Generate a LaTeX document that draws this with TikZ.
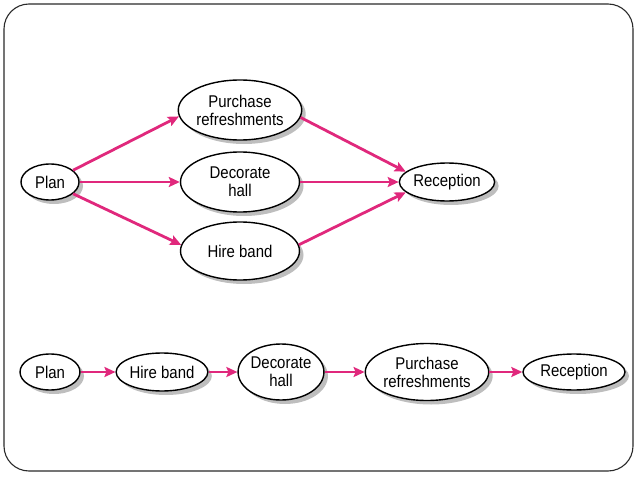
\documentclass[tikz,border=0pt]{standalone}
\usepackage{fontspec}
\setsansfont[FakeStretch=0.88]{Liberation Sans}
\usetikzlibrary{arrows.meta, shapes.geometric, shadows}
\definecolor{cpink}{HTML}{E0287C}
\definecolor{cframe}{HTML}{2A2A2A}
\definecolor{cshadow}{HTML}{BEBEBE}
\tikzset{
  every picture/.style={font=\sffamily\fontsize{17}{18}\selectfont},
  event/.style={ellipse, draw=black, line width=1.4pt, fill=white, align=center, inner sep=0pt,
    drop shadow={shadow xshift=4pt, shadow yshift=-4pt, fill=cshadow, opacity=1}},
  flow/.style={-{Stealth[length=11pt, width=10pt, inset=2pt]}, draw=cpink, line width=2.8pt},
  frame/.style={draw=cframe, line width=1.1pt, rounded corners=25pt},
}

\begin{document}
\begin{tikzpicture}[x=1pt, y=-1pt]
  \useasboundingbox (0,0) rectangle (638,479);
  \draw[frame] (4,4) rectangle (633,471);

  % parallel plan
  \node[event, minimum width=58pt, minimum height=36pt] (plan) at (50,182) {Plan};
  \node[event, minimum width=119pt, minimum height=60pt] (buy) at (240,110) {Purchase\\refreshments};
  \node[event, minimum width=119pt, minimum height=60pt] (deco) at (240,182) {Decorate\\hall};
  \node[event, minimum width=119pt, minimum height=58pt] (band) at (240,251) {Hire band};
  \node[event, minimum width=93pt, minimum height=38pt] (recep) at (447,182) {Reception};

  \draw[flow] (plan.27) -- (buy.186);
  \draw[flow] (plan.east) -- (deco.west);
  \draw[flow] (plan.-27) -- (band.174);
  \draw[flow] (buy.-7) -- (recep.166);
  \draw[flow] (deco.east) -- (recep.west);
  \draw[flow] (band.6) -- (recep.-166);

  % serial plan
  \node[event, minimum width=60pt, minimum height=36pt] (plan2) at (50,372) {Plan};
  \node[event, minimum width=83pt, minimum height=38pt] (band2) at (162,372) {Hire band};
  \node[event, minimum width=76pt, minimum height=56pt] (deco2) at (281,372) {Decorate\\hall};
  \node[event, minimum width=113pt, minimum height=57pt] (buy2) at (427,372) {Purchase\\refreshments};
  \node[event, minimum width=102pt, minimum height=36pt] (recep2) at (574,372) {Reception};

  \foreach \a/\b in {plan2/band2, band2/deco2, deco2/buy2, buy2/recep2}
    \draw[flow] (\a.east) -- (\b.west);
\end{tikzpicture}
\end{document}
